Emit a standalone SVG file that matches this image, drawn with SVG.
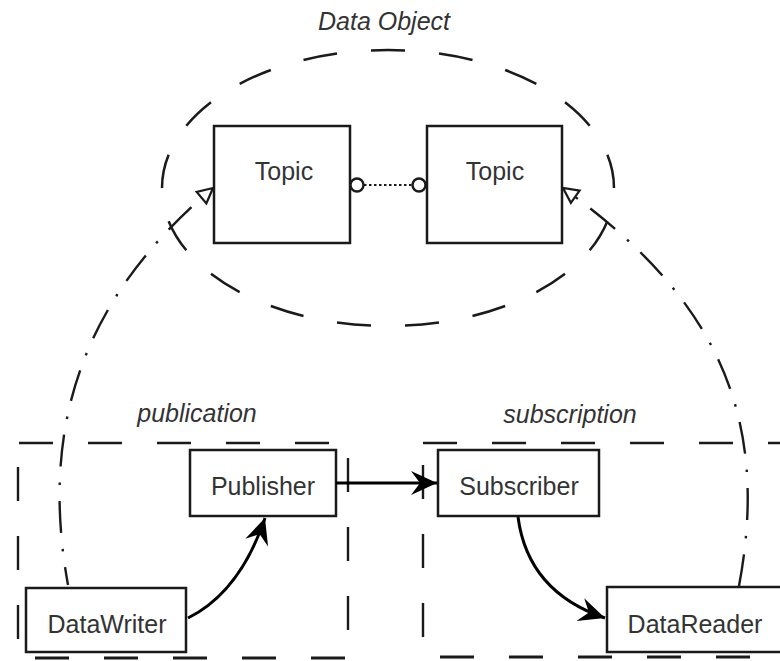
<svg xmlns="http://www.w3.org/2000/svg" width="780" height="661" viewBox="0 0 780 661">
<style>
.box{fill:#fff;stroke:#1a1a1a;stroke-width:2.5}
.lbl{font-family:"Liberation Sans",Arial,sans-serif;font-size:25px;fill:#333;text-anchor:middle}
.it{font-family:"Liberation Sans",Arial,sans-serif;font-size:25px;font-style:italic;fill:#333;text-anchor:middle}
.dash{fill:none;stroke:#1a1a1a;stroke-width:2.4;stroke-dasharray:34 35}
.dd{fill:none;stroke:#1a1a1a;stroke-width:2.4;stroke-dasharray:32 16 2.5 16}
.solid{fill:none;stroke:#000;stroke-width:3}
</style>
<defs>
<marker id="filled" markerUnits="userSpaceOnUse" viewBox="-28 -14 30 28" refX="0" refY="0" markerWidth="30" markerHeight="28" orient="auto">
<path d="M0,0 L-26,-12 L-17,0 L-26,12 Z" fill="#000"/>
</marker>
<marker id="open" markerUnits="userSpaceOnUse" viewBox="-19 -11 21 22" refX="0" refY="0" markerWidth="21" markerHeight="22" orient="auto">
<path d="M0,0 L-15,-7.5 L-15,7.5 Z" fill="#fff" stroke="#1a1a1a" stroke-width="2.2" stroke-dasharray="none"/>
</marker>
</defs>
<rect width="780" height="661" fill="#fff"/>

<g id="data-object">
<ellipse cx="388" cy="188" rx="226" ry="138" fill="none" stroke="#1a1a1a" stroke-width="2.5" stroke-dasharray="34 34" stroke-dashoffset="34" pathLength="1156"/>
<text class="it" x="384" y="30">Data Object</text>
</g>

<g id="publication">
<line class="dash" x1="19" y1="443" x2="348" y2="443"/>
<line class="dash" x1="348" y1="458" x2="348" y2="640"/>
<line class="dash" x1="18" y1="467" x2="18" y2="640"/>
<line class="dash" x1="35" y1="658" x2="348" y2="658" style="stroke-width:3"/>
<text class="it" x="197" y="422">publication</text>
</g>

<g id="subscription">
<line class="dash" x1="423" y1="443" x2="780" y2="443"/>
<line class="dash" x1="423" y1="465" x2="423" y2="640"/>
<line class="dash" x1="440" y1="657" x2="780" y2="657" style="stroke-width:3"/>
<text class="it" x="570" y="423">subscription</text>
</g>

<g id="topic-left">
<rect class="box" x="214" y="126" width="136" height="117"/>
<text class="lbl" x="284" y="180">Topic</text>
</g>
<g id="topic-right">
<rect class="box" x="427" y="126" width="135" height="117"/>
<text class="lbl" x="495" y="180">Topic</text>
</g>
<g id="publisher">
<rect class="box" x="190" y="450" width="146" height="66"/>
<text class="lbl" x="263" y="495">Publisher</text>
</g>
<g id="subscriber">
<rect class="box" x="438" y="450" width="161" height="66"/>
<text class="lbl" x="519" y="495">Subscriber</text>
</g>
<g id="datawriter">
<rect class="box" x="26" y="588" width="160" height="64"/>
<text class="lbl" x="107" y="633">DataWriter</text>
</g>
<g id="datareader">
<rect class="box" x="607" y="587" width="176" height="65"/>
<text class="lbl" x="695" y="633">DataReader</text>
</g>

<g id="connectors">
<line x1="364" y1="185" x2="412" y2="185" stroke="#1a1a1a" stroke-width="2.2" stroke-dasharray="2.5 2.5"/>
<circle cx="357" cy="185" r="6.5" fill="#fff" stroke="#1a1a1a" stroke-width="2.4"/>
<circle cx="419" cy="185" r="6.5" fill="#fff" stroke="#1a1a1a" stroke-width="2.4"/>
<path class="dd" d="M68,585 C40,430 80,300 213,188" stroke-dashoffset="14" marker-end="url(#open)"/>
<path class="dd" d="M739,586 C770,420 720,300 563,188" marker-end="url(#open)"/>
<line class="solid" x1="336" y1="483" x2="437" y2="483" marker-end="url(#filled)"/>
<path class="solid" d="M188,618 Q240,592 265,518" marker-end="url(#filled)"/>
<path class="solid" d="M518,517 Q528,592 605,618" marker-end="url(#filled)"/>
</g>
</svg>
